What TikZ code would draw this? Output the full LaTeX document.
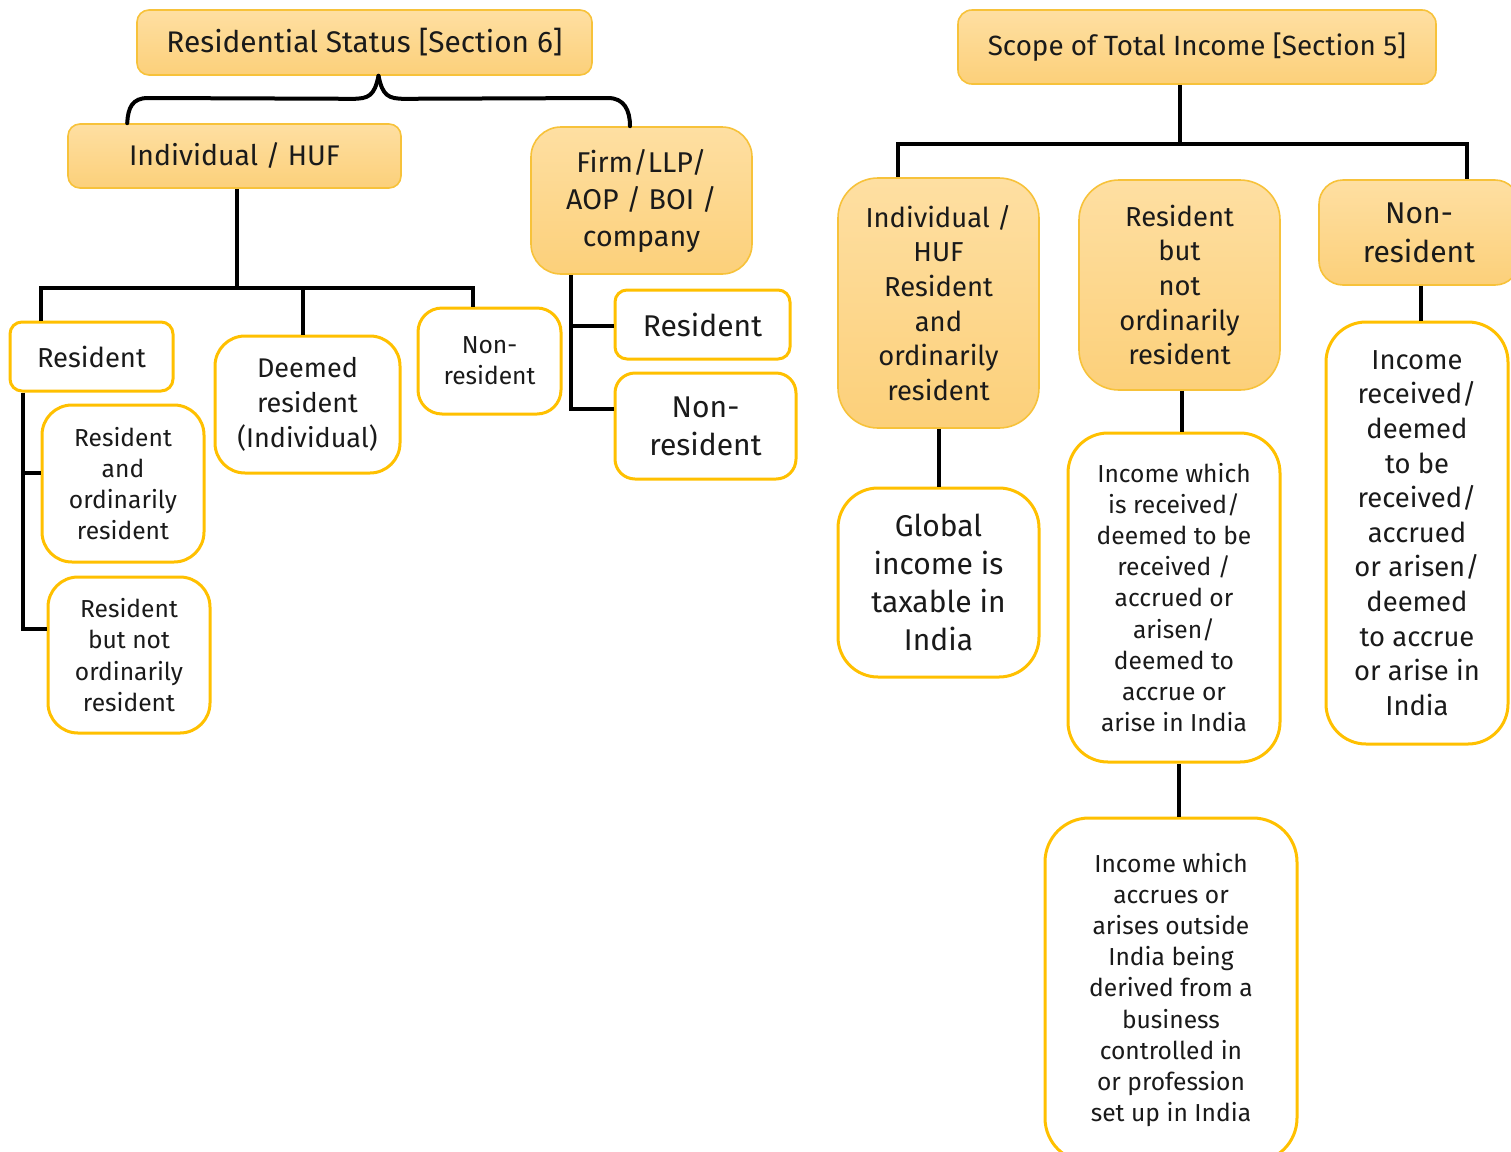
\documentclass[tikz,border=0pt]{standalone}
\usepackage{fontspec}
\setmainfont{Fira Sans}
\usetikzlibrary{calc}
\definecolor{boxedge}{HTML}{FFC000}
\definecolor{filledge}{HTML}{F7C23A}
\definecolor{filltop}{HTML}{FEDFA2}
\definecolor{fillbot}{HTML}{FCD07A}
\definecolor{ink}{HTML}{1A1A1A}
\newcommand{\fsA}{\fontsize{12.3}{15.6}\selectfont}
\newcommand{\fsB}{\fontsize{13.7}{17.3}\selectfont}
\newcommand{\fsC}{\fontsize{15}{19}\selectfont}
\tikzset{
  conn/.style={line width=2pt, draw=black},
  base/.style={align=center, inner sep=0pt, text=ink},
  filled/.style={base, draw=filledge, line width=0.8pt, top color=filltop, bottom color=fillbot},
  plain/.style={base, draw=boxedge, line width=1.5pt, fill=white},
}
\begin{document}
\begin{tikzpicture}[x=0.5pt,y=-0.5pt]
\useasboundingbox (0,0) rectangle (1511,1152);

% ---------- Residential status tree ----------
\node[filled, minimum width=227.5pt, minimum height=32.5pt, rounded corners=6pt, font=\fontsize{14.9}{18}\selectfont] (h1) at (364.5,42.5) {Residential Status [Section 6]};
\node[filled, minimum width=166.5pt, minimum height=32pt, rounded corners=6pt, font=\fontsize{14.2}{18}\selectfont] (ind) at (234.5,156) {Individual / HUF};
\node[filled, minimum width=110.5pt, minimum height=73.5pt, rounded corners=15pt, font=\fontsize{14.3}{18.5}\selectfont] (firm) at (641.5,200.5) {Firm/LLP/\\AOP / BOI /\\company};

\node[plain, minimum width=81.5pt, minimum height=34.5pt, rounded corners=6pt, font=\fontsize{13.7}{17}\selectfont] (res) at (91.5,356.5) {Resident};
\node[plain, minimum width=81pt, minimum height=78.5pt, rounded corners=15pt, font=\fsA] (raor) at (123,483.5) {Resident\\and\\ordinarily\\resident};
\node[plain, minimum width=81pt, minimum height=78pt, rounded corners=15pt, font=\fsA] (rnor) at (129,655) {Resident\\but not\\ordinarily\\resident};
\node[plain, minimum width=92.5pt, minimum height=68.5pt, rounded corners=15pt, font=\fontsize{13.5}{17.5}\selectfont] (deem) at (307.5,404.5) {Deemed\\resident\\(Individual)};
\node[plain, minimum width=71.5pt, minimum height=53pt, rounded corners=12pt, font=\fsA] (nr1) at (489.5,361) {Non-\\resident};
\node[plain, minimum width=87.5pt, minimum height=34.5pt, rounded corners=6pt, font=\fsC] (fres) at (702.5,324.5) {Resident};
\node[plain, minimum width=90.5pt, minimum height=53pt, rounded corners=10pt, font=\fsC] (fnr) at (705.5,426) {Non-\\resident};

% brace under the heading
\coordinate (tip) at ($(h1.south)+(14,0)$);
\coordinate (indN) at ($(ind.north west)+(60,0)$);
\coordinate (firmN) at ($(firm.north)+(-11.5,0)$);
\draw[conn, line cap=round] (tip) .. controls ($(tip)+(-4,20)$) and ($(tip)+(-10,23)$) .. ($(tip)+(-26,23)$) -- (148,98)
  .. controls (132,98) and (128,108) .. (indN);
\draw[conn, line cap=round] (tip) .. controls ($(tip)+(4,20)$) and ($(tip)+(10,23)$) .. ($(tip)+(26,23)$) -- (608,98)
  .. controls (624,98) and (630,110) .. (firmN);

% individual / HUF branches
\coordinate (lbus) at ($(ind.south)+(2.5,99)$);
\draw[conn] ($(ind.south)+(2.5,0)$) -- (lbus);
\draw[conn] ($(res.north west)+(32,0)$) |- (lbus) -| ($(nr1.north)+(-16.5,0)$);
\draw[conn] ($(deem.north)+(-4.5,0)$) -- ($(deem.north)+(-4.5,-45)$);

% resident sub-branches
\coordinate (rv) at ($(res.south west)+(14,0)$);
\coordinate (raorj) at ($(raor.west)+(0,-10.5)$);
\draw[conn] (rv) |- ($(rnor.west)+(0,-26)$);
\draw[conn] (raorj) -- (raorj -| rv);

% firm branches
\coordinate (fv) at ($(firm.south west)+(41,0)$);
\coordinate (fresj) at ($(fres.west)+(0,1.5)$);
\draw[conn] (fv) |- ($(fnr.west)+(0,-17)$);
\draw[conn] (fresj) -- (fresj -| fv);

% ---------- Scope of total income tree ----------
\node[filled, minimum width=239pt, minimum height=37pt, rounded corners=7pt, font=\fontsize{13.9}{17}\selectfont] (h2) at (1197,47) {Scope of Total Income [Section 5]};
\node[filled, minimum width=100.5pt, minimum height=125pt, rounded corners=20pt, font=\fsB] (s1) at (938.5,303) {Individual /\\HUF\\Resident\\and\\ordinarily\\resident};
\node[filled, minimum width=100.5pt, minimum height=105pt, rounded corners=20pt, font=\fsB] (s2) at (1179.5,285) {Resident\\but\\not\\ordinarily\\resident};
\node[filled, minimum width=100pt, minimum height=52.5pt, rounded corners=12pt, font=\fontsize{15}{19.5}\selectfont] (s3) at (1419,232.5) {Non-\\resident};

\node[plain, minimum width=100.5pt, minimum height=94.5pt, rounded corners=20pt, font=\fsC] (g1) at (938.5,582.5) {Global\\income is\\taxable in\\India};
\node[plain, minimum width=106pt, minimum height=164.5pt, rounded corners=20pt, font=\fsA] (g2) at (1174,597.5) {Income which\\is received/\\deemed to be\\received /\\accrued or\\arisen/\\deemed to\\accrue or\\arise in India};
\node[plain, minimum width=126pt, minimum height=172pt, rounded corners=22pt, font=\fsA] (g3) at (1171,990) {Income which\\accrues or\\arises outside\\India being\\derived from a\\business\\controlled in\\or profession\\set up in India};
\node[plain, minimum width=91pt, minimum height=211pt, rounded corners=20pt, font=\fsB] (g4) at (1417,533) {Income\\received/\\deemed\\to be\\received/\\accrued\\or arisen/\\deemed\\to accrue\\or arise in\\India};

\coordinate (rbus) at ($(h2.south)+(-17,59)$);
\draw[conn] ($(h2.south)+(-17,0)$) -- (rbus);
\draw[conn] ($(s1.north)+(-40.5,0)$) |- (rbus) -| ($(s3.north)+(48,0)$);
\draw[conn] ($(s2.north)+(-9.5,0)$) -- ($(s2.north)+(-9.5,0)$ |- rbus);

\draw[conn] (s1.south) -- (g1.north);
\draw[conn] ($(s2.south)+(2.5,0)$) -- ($(g2.north)+(8,0)$);
\draw[conn] ($(g2.south)+(5,0)$) -- ($(g3.north)+(8,0)$);
\draw[conn] ($(s3.south)+(2,0)$) -- ($(g4.north)+(4,0)$);
\end{tikzpicture}
\end{document}
